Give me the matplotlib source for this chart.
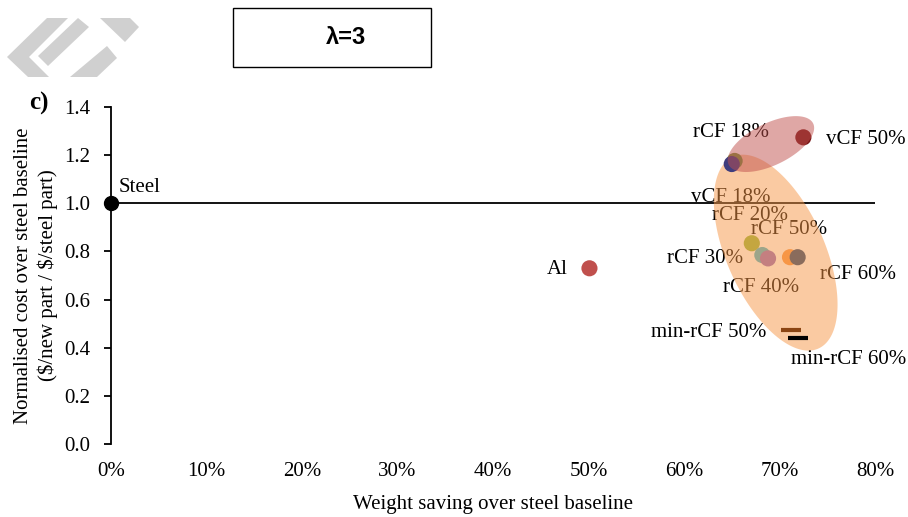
import numpy as np
import matplotlib
matplotlib.use('Agg')
import matplotlib.pyplot as plt
from matplotlib.patches import Polygon, Rectangle
from matplotlib.ticker import FuncFormatter

plt.rcParams['font.family'] = ['Liberation Serif', 'DejaVu Serif']

# weight saving (fraction) and normalised cost
steelX, steelY = 0.0, 1.0
names = ['Al', 'vCF 50%', 'vCF 18%', 'rCF 18%', 'rCF 20%', 'rCF 30%',
         'rCF 40%', 'rCF 50%', 'rCF 60%']
saving = [0.501, 0.725, 0.653, 0.650, 0.671, 0.682, 0.688, 0.711, 0.719]
cost = [0.730, 1.274, 1.176, 1.163, 0.834, 0.785, 0.771, 0.776, 0.776]
colors = ['#C0504D', '#7A1818', '#77933C', '#3F3D7E', '#C4A640', '#9CA58A',
          '#C47F80', '#F79646', '#8A6C5C']

minNames = ['min-rCF 50%', 'min-rCF 60%']
minSaving = [0.712, 0.719]
minCost = [0.474, 0.440]
minColors = ['#8B4513', '#000000']

# label anchors (data coords)
labels = {
    'Steel': (0.0084, 1.064, 'left'),
    'Al': (0.4785, 0.723, 'right'),
    'rCF 18%': (0.649, 1.292, 'center'),
    'vCF 50%': (0.7906, 1.263, 'center'),
    'vCF 18%': (0.649, 1.026, 'center'),
    'rCF 20%': (0.6686, 0.951, 'center'),
    'rCF 50%': (0.7105, 0.893, 'center'),
    'rCF 30%': (0.6225, 0.769, 'center'),
    'rCF 40%': (0.681, 0.652, 'center'),
    'rCF 60%': (0.7817, 0.706, 'center'),
    'min-rCF 50%': (0.6257, 0.465, 'center'),
    'min-rCF 60%': (0.7723, 0.349, 'center'),
}

fig = plt.figure(figsize=(9.08, 5.17), dpi=100)
ax = fig.add_axes([111 / 908, 1 - 444 / 517, 764 / 908, 337 / 517])

# px per data unit, used to draw rotated ellipses
sx = 764 / 0.8
sy = 337 / 1.4


def ellipse(cx, cy, a, b, ang, color, z):
    t = np.linspace(0, 2 * np.pi, 200)
    th = np.deg2rad(ang)
    px = a * np.cos(th) * np.cos(t) - b * np.sin(th) * np.sin(t)
    py = a * np.sin(th) * np.cos(t) + b * np.cos(th) * np.sin(t)
    ax.fill(cx + px / sx, cy + py / sy, color=color, alpha=0.5, lw=0, zorder=z)


ax.axhline(1.0, color='black', lw=1.3, zorder=1)
ax.plot(steelX, steelY, 'o', color='black', ms=10, zorder=6, clip_on=False)

for name, (lx, ly, ha) in labels.items():
    ax.text(lx, ly, name, ha=ha, va='center', fontsize=15, zorder=2)

ellipse(0.696, 0.795, 105, 49, -66, '#F79646', 3)
ax.scatter(saving, cost, s=135, c=colors, zorder=4, lw=0)
for x, y, c in zip(minSaving, minCost, minColors):
    ax.plot(x, y, marker='_', ms=14, mew=3, color=c, zorder=4)
ellipse(0.691, 1.246, 47, 21, 26, '#C0504D', 5)

ax.set_xlim(0, 0.8)
ax.set_ylim(0, 1.4)
ax.set_xticks(np.arange(0, 0.81, 0.1))
ax.set_yticks(np.arange(0, 1.41, 0.2))
ax.xaxis.set_major_formatter(FuncFormatter(lambda v, p: '{:.0f}%'.format(v * 100)))
ax.yaxis.set_major_formatter(FuncFormatter(lambda v, p: '{:.1f}'.format(v)))
ax.tick_params(axis='x', length=0, pad=13, labelsize=15)
ax.tick_params(axis='y', length=5, width=1.3, pad=10, labelsize=15)
for s in ['top', 'right', 'bottom']:
    ax.spines[s].set_visible(False)
ax.spines['left'].set_linewidth(1.3)
ax.set_xlabel('Weight saving over steel baseline', fontsize=15, labelpad=10)
ax.set_ylabel('Normalised cost over steel baseline\n(\\$/new part / \\$/steel part)',
              fontsize=15, labelpad=4, linespacing=1.3)

# overlay in pixel coords for the watermark, title box and panel letter
ov = fig.add_axes([0, 0, 1, 1], zorder=-1)
ov.set_xlim(0, 908)
ov.set_ylim(517, 0)
ov.axis('off')
grey = '#D0D0D0'
for pts in [
    [(47, 18), (68, 18), (29, 57), (49, 77), (28, 77), (7, 57)],
    [(38, 56), (78, 18), (89, 27), (48, 66)],
    [(100, 18), (130, 18), (139, 27), (125, 42)],
    [(70, 77), (97, 77), (117, 58), (107, 46)],
]:
    ov.add_patch(Polygon(pts, closed=True, color=grey, lw=0))

fig.add_artist(Rectangle((233 / 908, 1 - 67 / 517), 198 / 908, 59 / 517,
                         transform=fig.transFigure, fill=False, lw=1.0, color='black'))
fig.text(346 / 908, 1 - 37 / 517, 'λ=3', ha='center', va='center',
         fontsize=17, fontweight='bold', family=['Liberation Sans', 'DejaVu Sans'])
fig.text(39 / 908, 1 - 103 / 517, 'c)', ha='center', va='center',
         fontsize=18, fontweight='bold')

fig.savefig('out.png', dpi=100)
